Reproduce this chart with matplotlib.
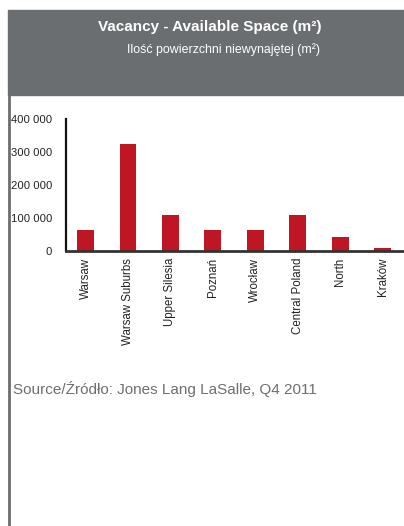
import matplotlib
matplotlib.use("Agg")
import matplotlib.pyplot as plt
from matplotlib.patches import Rectangle
from matplotlib.lines import Line2D
from matplotlib.ticker import FuncFormatter

plt.rcParams["font.family"] = ["Liberation Sans", "DejaVu Sans"]

# data
regions = ["Warsaw", "Warsaw Suburbs", "Upper Silesia", "Poznań", "Wrocław",
           "Central Poland", "North", "Kraków"]
vacancy_m2 = [65000, 325000, 108000, 65000, 65000, 108000, 42000, 10000]
y_ticks = [0, 100000, 200000, 300000, 400000]

title = "Vacancy - Available Space (m²)"
subtitle = "Ilość powierzchni niewynajętej (m²)"
source = "Source/Źródło: Jones Lang LaSalle, Q4 2011"

W, H = 404, 526
header_grey = "#6b6e71"
bar_red = "#be1622"

fig = plt.figure(figsize=(W / 100, H / 100), dpi=100)

# grey header box and left frame line
fig.patches.append(Rectangle((8 / W, 1 - 95 / H), 1 - 8 / W, 85 / H,
                             transform=fig.transFigure, color=header_grey, zorder=0))
fig.lines.append(Line2D([9 / W, 9 / W], [0, 1 - 95 / H], transform=fig.transFigure,
                        color=header_grey, lw=2))
fig.text(210 / W, 1 - 27 / H, title, color="white", fontsize=11, fontweight="bold",
         ha="center", va="center")
fig.text(223 / W, 1 - 50 / H, subtitle, color="white", fontsize=8.9,
         ha="center", va="center")
fig.text(13 / W, 1 - 389 / H, source, color="#6d6e71", fontsize=11,
         ha="left", va="center")

ax = fig.add_axes([66 / W, 1 - 251 / H, 1 - 66 / W, 132 / H])
x = range(len(regions))
ax.bar(x, vacancy_m2, width=0.4, color=bar_red, zorder=2)
ax.set_xlim(-0.46, 7.5)
ax.set_ylim(0, 400000)
ax.set_yticks(y_ticks)
ax.yaxis.set_major_formatter(FuncFormatter(lambda v, p: f"{int(v):,}".replace(",", " ")))
ax.set_xticks(list(x))
ax.set_xticklabels(regions, rotation=90, ha="center", va="top")
ax.tick_params(axis="y", length=0, pad=10, labelsize=8.1, labelcolor="#222222")
ax.tick_params(axis="x", length=0, pad=5, labelsize=8.3, labelcolor="#222222")
for s in ("top", "right"):
    ax.spines[s].set_visible(False)
ax.spines["left"].set_linewidth(1.6)
ax.spines["left"].set_color("#111111")
ax.spines["bottom"].set_linewidth(2)
ax.spines["bottom"].set_color("#333333")
ax.spines["bottom"].set_zorder(3)

fig.savefig("out.png", dpi=100)
